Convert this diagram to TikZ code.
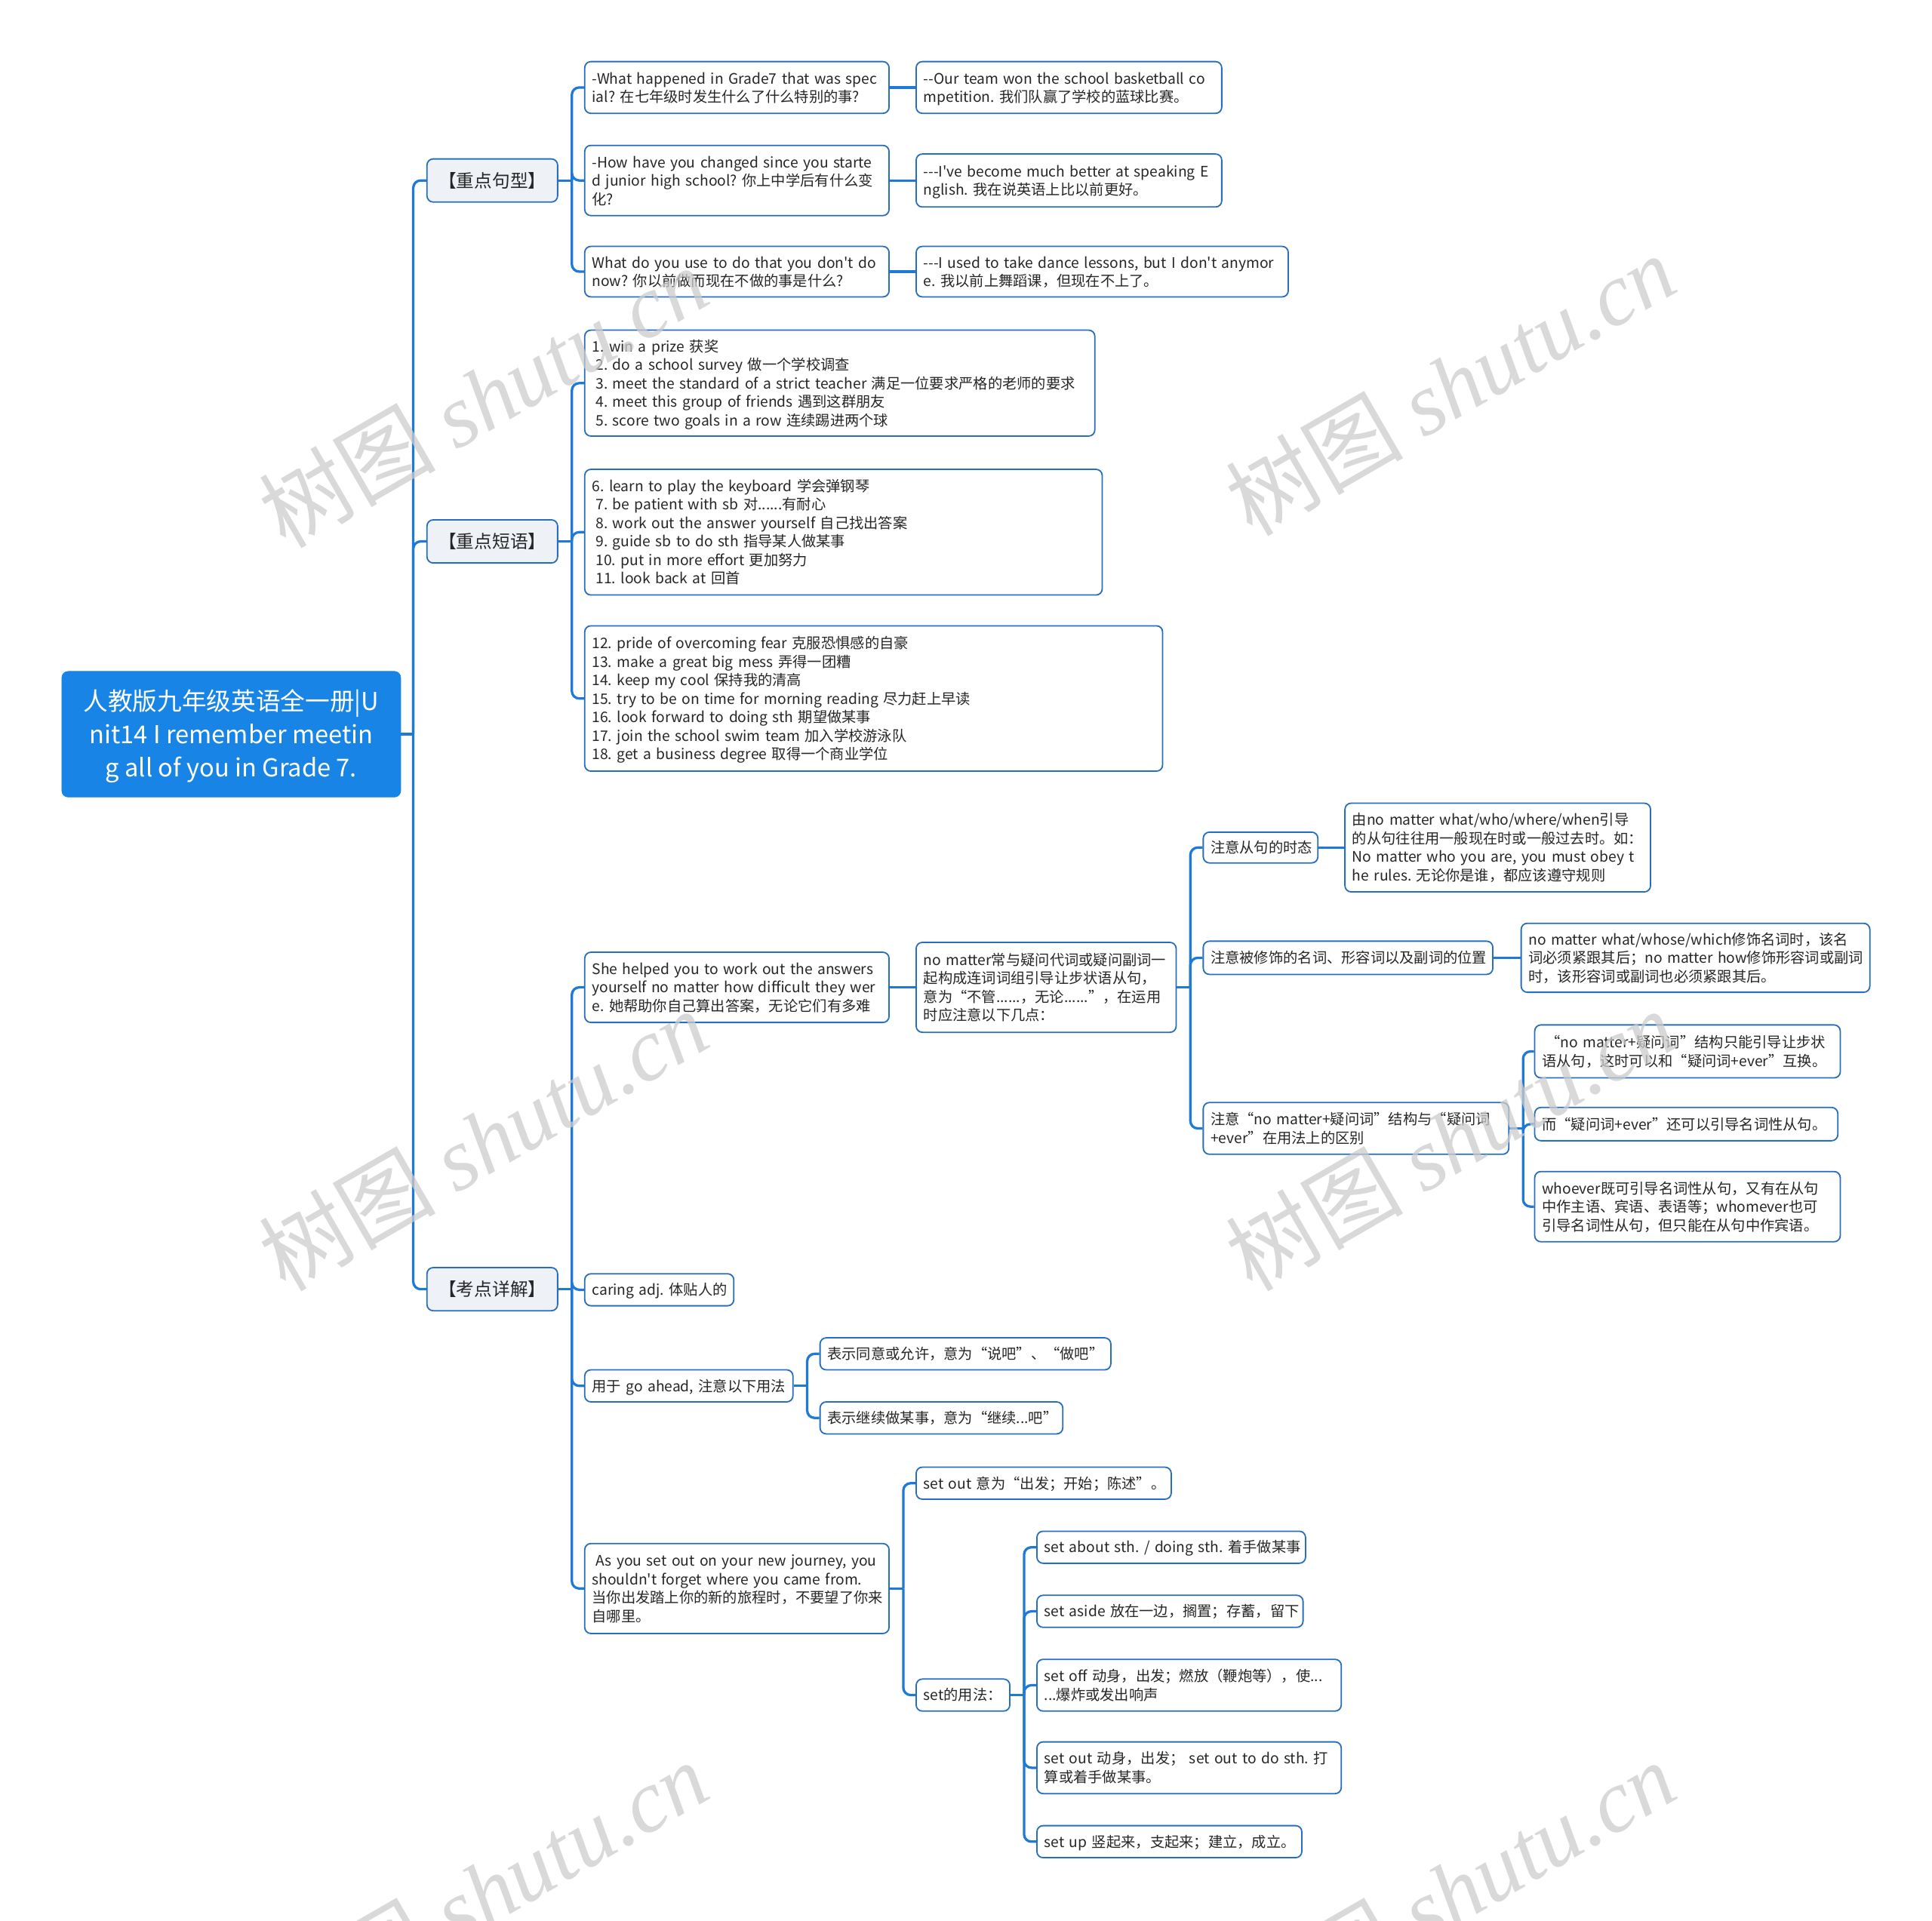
\documentclass[tikz,border=0pt]{standalone}
\usepackage{fontspec}
\newfontfamily\mainf{Noto Sans CJK SC}
\newfontfamily\wmcjk{Noto Sans CJK SC}
\newfontfamily\wmlat{Liberation Serif}
\definecolor{bdr}{RGB}{40,110,190}
\definecolor{lnk}{RGB}{30,122,214}
\definecolor{catfill}{RGB}{238,242,247}
\definecolor{rootfill}{RGB}{24,132,230}
\newcommand\tx[1]{\raisebox{-1.5pt}[\height][\depth]{\begin{tabular}{@{}l@{}}#1\end{tabular}}}
\newcommand\txc[1]{\raisebox{-2pt}[\height][\depth]{\begin{tabular}{@{}c@{}}#1\end{tabular}}}
\begin{document}
\begin{tikzpicture}[x=1pt,y=-1pt,
 leaf/.style={draw=bdr, line width=1.1pt, rounded corners=5pt, fill=white, align=left, inner xsep=6pt, inner ysep=1pt, font=\mainf\frenchspacing\fontsize{11.8}{15}\selectfont, anchor=west, text=black!85},
 cat/.style={draw=bdr, line width=1.1pt, rounded corners=5pt, fill=catfill, font=\mainf\fontsize{14.5}{18}\selectfont, anchor=west, minimum width=106pt, minimum height=35pt, inner sep=0pt, text=black!85},
 rootbox/.style={fill=rootfill, draw=rootfill, rounded corners=5pt, text=white, align=center, font=\mainf\frenchspacing\fontsize{20}{27}\selectfont, anchor=west, minimum width=275pt, minimum height=102pt, inner sep=0pt},
 conn/.style={draw=lnk, line width=2pt, rounded corners=6pt},
 wm/.style={rotate=30, text=black!20, opacity=0.75, inner sep=0pt}]
\useasboundingbox (0,0) rectangle (1568,1559);

% root and categories
\node[rootbox] (root) at (50,596) {\txc{人教版九年级英语全一册|U\\nit14 I remember meetin\\g all of you in Grade 7.}};
\node[cat] (A) at (346,146.5) {【重点句型】};
\node[cat] (B) at (346,439.5) {【重点短语】};
\node[cat] (C) at (346,1046.5) {【考点详解】};

% A branch
\node[leaf, text width=235pt, minimum height=42pt] (A1) at (474,71) {\tx{-What happened in Grade7 that was spec\\ial? 在七年级时发生什么了什么特别的事?}};
\node[leaf, text width=235pt, minimum height=57pt] (A2) at (474,146.5) {\tx{-How have you changed since you starte\\d junior high school? 你上中学后有什么变\\化?}};
\node[leaf, text width=235pt, minimum height=41pt] (A3) at (474,220.5) {\tx{What do you use to do that you don't do\\now? 你以前做而现在不做的事是什么?}};
\node[leaf, text width=236pt, minimum height=42pt] (A1a) at (743,71) {\tx{--Our team won the school basketball co\\mpetition. 我们队赢了学校的蓝球比赛。}};
\node[leaf, text width=236pt, minimum height=43pt] (A2a) at (743,146.5) {\tx{---I've become much better at speaking E\\nglish. 我在说英语上比以前更好。}};
\node[leaf, text width=290pt, minimum height=41pt] (A3a) at (743,220.5) {\tx{---I used to take dance lessons, but I don't anymor\\e. 我以前上舞蹈课，但现在不上了。}};

% B branch
\node[leaf, text width=402pt, minimum height=86pt] (B1) at (474,311) {\tx{1. win a prize 获奖\\\hspace{3pt}2. do a school survey 做一个学校调查\\\hspace{3pt}3. meet the standard of a strict teacher 满足一位要求严格的老师的要求\\\hspace{3pt}4. meet this group of friends 遇到这群朋友\\\hspace{3pt}5. score two goals in a row 连续踢进两个球}};
\node[leaf, text width=408pt, minimum height=102pt] (B2) at (474,432) {\tx{6. learn to play the keyboard 学会弹钢琴\\\hspace{3pt}7. be patient with sb 对......有耐心\\\hspace{3pt}8. work out the answer yourself 自己找出答案\\\hspace{3pt}9. guide sb to do sth 指导某人做某事\\\hspace{3pt}10. put in more effort 更加努力\\\hspace{3pt}11. look back at 回首}};
\node[leaf, text width=457pt, minimum height=118pt] (B3) at (474,567) {\tx{12. pride of overcoming fear 克服恐惧感的自豪\\13. make a great big mess 弄得一团糟\\14. keep my cool 保持我的清高\\15. try to be on time for morning reading 尽力赶上早读\\16. look forward to doing sth 期望做某事\\17. join the school swim team 加入学校游泳队\\18. get a business degree 取得一个商业学位}};

% C branch
\node[leaf, text width=235pt, minimum height=57pt] (C1) at (474,801.5) {\tx{She helped you to work out the answers\\yourself no matter how difficult they wer\\e. 她帮助你自己算出答案，无论它们有多难}};
\node[leaf, text width=109pt, minimum height=26pt] (C2) at (474,1047) {\tx{caring adj. 体贴人的}};
\node[leaf, text width=157pt, minimum height=26pt] (C3) at (474,1125) {\tx{用于 go ahead, 注意以下用法}};
\node[leaf, text width=235pt, minimum height=73pt] (C4) at (474,1289.5) {\tx{\hspace{3pt}As you set out on your new journey, you\\shouldn't forget where you came from.\\当你出发踏上你的新的旅程时，不要望了你来\\自哪里。}};

\node[leaf, text width=199pt, minimum height=73pt] (C1a) at (743,801.5) {\tx{no matter常与疑问代词或疑问副词一\\起构成连词词组引导让步状语从句，\\意为“不管......，无论......”，在运用\\时应注意以下几点：}};
\node[leaf, text width=81pt, minimum height=25pt] (D1) at (976,688) {\tx{注意从句的时态}};
\node[leaf, text width=223pt, minimum height=27pt] (D2) at (976,777.5) {\tx{注意被修饰的名词、形容词以及副词的位置}};
\node[leaf, text width=236pt, minimum height=42pt] (D3) at (976,916) {\tx{注意“no matter+疑问词”结构与“疑问词\\+ever”在用法上的区别}};
\node[leaf, text width=236pt, minimum height=72pt] (D1a) at (1091,688) {\tx{由no matter what/who/where/when引导\\的从句往往用一般现在时或一般过去时。如：\\No matter who you are, you must obey t\\he rules. 无论你是谁，都应该遵守规则}};
\node[leaf, text width=271pt, minimum height=56pt] (D2a) at (1234,777.5) {\tx{no matter what/whose/which修饰名词时，该名\\词必须紧跟其后；no matter how修饰形容词或副词\\时，该形容词或副词也必须紧跟其后。}};
\node[leaf, text width=236pt, minimum height=43pt] (D3a) at (1245,853.5) {\tx{\hspace{3pt}“no matter+疑问词”结构只能引导让步状\\语从句，这时可以和“疑问词+ever”互换。}};
\node[leaf, text width=234pt, minimum height=27pt] (D3b) at (1245,912.5) {\tx{而“疑问词+ever”还可以引导名词性从句。}};
\node[leaf, text width=236pt, minimum height=57pt] (D3c) at (1245,979.5) {\tx{whoever既可引导名词性从句，又有在从句\\中作主语、宾语、表语等；whomever也可\\引导名词性从句，但只能在从句中作宾语。}};

\node[leaf, text width=224pt, minimum height=26pt] (E1) at (665,1099) {\tx{表示同意或允许，意为“说吧”、“做吧”}};
\node[leaf, text width=185pt, minimum height=26pt] (E2) at (665,1151) {\tx{表示继续做某事，意为“继续...吧”}};

\node[leaf, text width=195pt, minimum height=26pt] (F1) at (743,1204) {\tx{set out 意为“出发；开始；陈述”。}};
\node[leaf, text width=64pt, minimum height=26pt] (F2) at (743,1376) {\tx{set的用法：}};

\node[leaf, text width=206pt, minimum height=26pt] (G1) at (841,1256) {\tx{set about sth. / doing sth. 着手做某事}};
\node[leaf, text width=204pt, minimum height=26pt] (G2) at (841,1308) {\tx{set aside 放在一边，搁置；存蓄，留下}};
\node[leaf, text width=235pt, minimum height=42pt] (G3) at (841,1368) {\tx{set off 动身，出发；燃放（鞭炮等），使...\\...爆炸或发出响声}};
\node[leaf, text width=235pt, minimum height=42pt] (G4) at (841,1435) {\tx{set out 动身，出发； set out to do sth. 打\\算或着手做某事。}};
\node[leaf, text width=203pt, minimum height=26pt] (G5) at (841,1495) {\tx{set up 竖起来，支起来；建立，成立。}};

% connectors
\draw[conn] (root.east) -- ++(10,0) coordinate (rj);
\foreach \c in {A,B,C} \draw[conn] (rj) |- (\c.west);

\draw[conn] (A.east) -- ++(11,0) coordinate (aj);
\foreach \c in {A1,A2,A3} \draw[conn] (aj) |- (\c.west);
\draw[conn] (A1.east) -- (A1a.west);
\draw[conn] (A2.east) -- (A2a.west);
\draw[conn] (A3.east) -- (A3a.west);

\draw[conn] (B.east) -- ++(11,0) coordinate (bj);
\foreach \c in {B1,B2,B3} \draw[conn] (bj) |- (\c.west);

\draw[conn] (C.east) -- ++(11,0) coordinate (cj);
\foreach \c in {C1,C2,C3,C4} \draw[conn] (cj) |- (\c.west);
\draw[conn] (C1.east) -- (C1a.west);

\draw[conn] (C1a.east) -- ++(11,0) coordinate (c1j);
\foreach \c in {D1,D2,D3} \draw[conn] (c1j) |- (\c.west);
\draw[conn] (D1.east) -- (D1a.west);
\draw[conn] (D2.east) -- (D2a.west);
\draw[conn] (D3.east) -- ++(11,0) coordinate (d3j);
\foreach \c in {D3a,D3b,D3c} \draw[conn] (d3j) |- (\c.west);

\draw[conn] (C3.east) -- ++(11,0) coordinate (c3j);
\foreach \c in {E1,E2} \draw[conn] (c3j) |- (\c.west);

\draw[conn] (C4.east) -- ++(11,0) coordinate (c4j);
\foreach \c in {F1,F2} \draw[conn] (c4j) |- (\c.west);

\draw[conn] (F2.east) -- ++(11,0) coordinate (f2j);
\foreach \c in {G1,G2,G3,G4,G5} \draw[conn] (f2j) |- (\c.west);

% watermarks
\foreach \i/\wx/\wy in {1/392/322, 2/1177/312, 3/392/925, 4/1177/925, 5/392/1535, 6/1177/1535}
  \node[wm] (wm\i) at (\wx,\wy) {\fontsize{72}{72}\selectfont\wmcjk 树图 \wmlat\itshape shutu.cn};
\end{tikzpicture}
\end{document}
